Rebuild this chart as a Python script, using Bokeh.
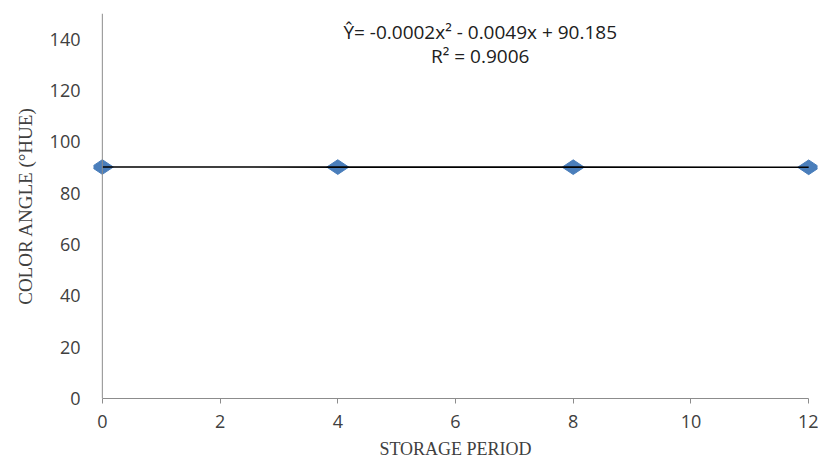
from bokeh.plotting import figure
from bokeh.models import Range1d, Span, Label, FixedTicker
from bokeh.embed import file_html
from bokeh.resources import INLINE

storage_period = [0, 4, 8, 12]
color_angle = [90.19, 90.16, 90.13, 90.08]
trend_values = [90.185, 90.162, 90.133, 90.097]
x_ticks = [0, 2, 4, 6, 8, 10, 12]
y_ticks = [0, 20, 40, 60, 80, 100, 120, 140]
equation = "Ŷ= -0.0002x² - 0.0049x + 90.185"
r_squared = "R² = 0.9006"

p = figure(width=818, height=461, output_backend="svg", toolbar_location=None,
           x_range=Range1d(-0.15, 12.15), y_range=Range1d(0, 150),
           min_border_left=93, min_border_right=1, min_border_top=13, min_border_bottom=63)
p.outline_line_color = None
p.xgrid.grid_line_color = None
p.ygrid.grid_line_color = None
p.background_fill_color = "white"
p.border_fill_color = "white"

axis_gray = "#8c8c8c"
label_font = "Open Sans"
title_font = "Liberation Serif"

p.xaxis.ticker = FixedTicker(ticks=x_ticks)
p.xaxis.bounds = (0, 12)
p.xaxis.axis_line_color = axis_gray
p.xaxis.major_tick_line_color = axis_gray
p.xaxis.major_tick_out = 5
p.xaxis.major_tick_in = 0
p.xaxis.minor_tick_line_color = None
p.xaxis.major_label_standoff = 11
p.xaxis.major_label_text_font = label_font
p.xaxis.major_label_text_font_size = "18px"
p.xaxis.major_label_text_color = "#404040"
p.xaxis.axis_label = "STORAGE PERIOD"
p.xaxis.axis_label_text_font = title_font
p.xaxis.axis_label_text_font_style = "normal"
p.xaxis.axis_label_text_font_size = "18px"
p.xaxis.axis_label_text_color = "#404040"
p.xaxis.axis_label_standoff = 8

p.yaxis.ticker = FixedTicker(ticks=y_ticks)
p.yaxis.axis_line_color = None
p.yaxis.major_tick_line_color = None
p.yaxis.minor_tick_line_color = None
p.yaxis.major_tick_out = 0
p.yaxis.major_tick_in = 0
p.yaxis.major_label_standoff = 13
p.yaxis.major_label_text_font = label_font
p.yaxis.major_label_text_font_size = "18px"
p.yaxis.major_label_text_color = "#404040"
p.yaxis.axis_label = "COLOR ANGLE (°HUE)"
p.yaxis.axis_label_text_font = title_font
p.yaxis.axis_label_text_font_style = "normal"
p.yaxis.axis_label_text_font_size = "19px"
p.yaxis.axis_label_text_color = "#404040"
p.yaxis.axis_label_standoff = 11

p.add_layout(Span(location=0, dimension="height", line_color=axis_gray, line_width=1))

p.scatter(storage_period, color_angle, marker="diamond", size=22, angle=1.5708,
          fill_color="#4a7ebb", line_color="#4a7ebb")
p.line(storage_period, trend_values, line_color="black", line_width=1.6)

p.add_layout(Label(x=6.42, y=142.6, text=equation, text_align="center", text_baseline="middle",
                   text_font=label_font, text_font_size="19px", text_color="#202020"))
p.add_layout(Label(x=6.42, y=133.6, text=r_squared, text_align="center", text_baseline="middle",
                   text_font=label_font, text_font_size="19px", text_color="#202020"))

open("out.html", "w").write(file_html(p, INLINE))
